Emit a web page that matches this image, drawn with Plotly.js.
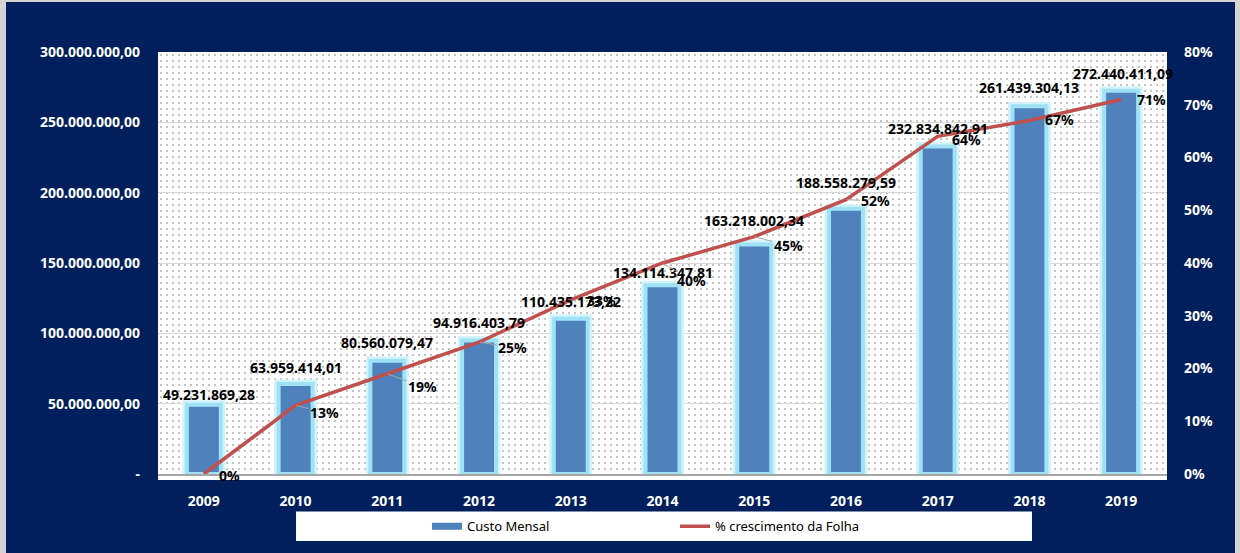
<!DOCTYPE html>
<html>
<head>
<meta charset="utf-8">
<script src="https://cdn.plot.ly/plotly-3.0.1.min.js"></script>
<style>
  html, body { margin:0; padding:0; width:1240px; height:553px; overflow:hidden; background:#d4d4d4; }
  #frame { position:absolute; left:6px; top:2px; width:1229px; height:551px; background:#001f5c; }
  #dots { position:absolute; left:158px; top:52px; width:1009px; height:428px;
          background-color:#ffffff;
          background-image: radial-gradient(circle, #c2c2c2 0.7px, rgba(255,255,255,0) 1px);
          background-size: 6px 6px; }
  #chart { position:absolute; left:0; top:0; width:1240px; height:553px; }
</style>
</head>
<body>
<div id="frame"></div>
<div id="dots"></div>
<div id="chart"></div>
<script>
// ---- data ----
const categories = ['2009','2010','2011','2012','2013','2014','2015','2016','2017','2018','2019'];
const custoMensal = [49231869.28, 63959414.01, 80560079.47, 94916403.79, 110435173.22, 134114347.81,
                     163218002.34, 188558279.59, 232834842.91, 261439304.13, 272440411.09];
const crescimento = [0.00, 0.13, 0.19, 0.25, 0.33, 0.40, 0.45, 0.52, 0.64, 0.67, 0.71];
const leftTickVals = [0, 50000000, 100000000, 150000000, 200000000, 250000000, 300000000];
const leftTickText = ['-', '50.000.000,00', '100.000.000,00', '150.000.000,00', '200.000.000,00', '250.000.000,00', '300.000.000,00'];

// ---- label placement (style only, pixels) ----
const barLabelShift = [10, 17, 18, 18, 17, 13, 24, 26, 18, 19, 17];
const barLabelXShift = [5, 0, 0, 0, 0, 0, 0, 0, 0, 0, 2];
const pctLabelOffset = [[26,1],[29,7],[35,13],[33,5],[31,1],[29,17],[34,9],[30,1],[29,3],[30,-1],[30,0]];
const pctLeader = [false, true, true, true, false, true, true, true, false, false, false];

const font = 'Noto Sans, Open Sans, sans-serif';

function fmtBR(n) {
  const parts = n.toFixed(2).split('.');
  const intPart = parts[0].replace(/\B(?=(\d{3})+(?!\d))/g, '.');
  return intPart + ',' + parts[1];
}

const traces = [
  {
    type: 'bar', name: 'glow', x: categories, y: custoMensal, showlegend: false,
    marker: { color: '#4f81bd', line: { color: '#d3f3fb', width: 9 } }, hoverinfo: 'skip'
  },
  {
    type: 'bar', name: 'Custo Mensal', x: categories, y: custoMensal, showlegend: false,
    marker: { color: '#4f81bd', line: { color: '#9fe2f5', width: 4 } }, hoverinfo: 'skip'
  },
  {
    type: 'scatter', mode: 'lines', name: 'Custo Mensal', x: categories, y: categories.map(() => null),
    line: { color: '#4f81bd', width: 7 }, showlegend: true, hoverinfo: 'skip'
  },
  {
    type: 'scatter', mode: 'lines', name: '% crescimento da Folha', x: categories, y: crescimento,
    yaxis: 'y2', line: { color: '#c0504d', width: 3.5 }, hoverinfo: 'skip'
  }
];

const annotations = [];
categories.forEach((c, i) => {
  annotations.push({
    x: i, y: custoMensal[i], xref: 'x', yref: 'y', text: fmtBR(custoMensal[i]),
    showarrow: false, yshift: barLabelShift[i], xshift: barLabelXShift[i], xanchor: 'center', yanchor: 'middle',
    font: { family: font, size: 14, color: '#000000', weight: 'bold' }
  });
});
categories.forEach((c, i) => {
  const off = pctLabelOffset[i];
  const a = {
    x: i, y: crescimento[i], xref: 'x', yref: 'y2', text: Math.round(crescimento[i] * 100) + '%',
    font: { family: font, size: 14, color: '#000000', weight: 'bold' }
  };
  if (pctLeader[i]) {
    Object.assign(a, { showarrow: true, arrowhead: 0, arrowwidth: 1, arrowcolor: '#a6a6a6',
                       ax: off[0], ay: off[1], standoff: 1 });
  } else {
    Object.assign(a, { showarrow: false, xshift: off[0], yshift: -off[1] });
  }
  annotations.push(a);
});

const layout = {
  width: 1240, height: 553,
  margin: { l: 158, r: 73, t: 52, b: 73 },
  paper_bgcolor: 'rgba(0,0,0,0)', plot_bgcolor: 'rgba(0,0,0,0)',
  barmode: 'overlay',
  bargap: 0.63,
  showlegend: true,
  font: { family: font, color: '#ffffff' },
  xaxis: {
    type: 'category', categoryorder: 'array', categoryarray: categories, range: [-0.5, categories.length - 0.5],
    showgrid: false, zeroline: false,
    showline: true, linecolor: '#a6a6a6', linewidth: 1.5,
    ticks: '', ticklabelstandoff: 14,
    tickfont: { family: font, size: 14, color: '#ffffff', weight: 'bold' }
  },
  yaxis: {
    range: [0, 300000000], tickvals: leftTickVals, ticktext: leftTickText,
    showgrid: true, gridcolor: '#d9d9d9', gridwidth: 1, zeroline: false, showline: false,
    ticks: '', ticklabelstandoff: 17,
    tickfont: { family: font, size: 14, color: '#ffffff', weight: 'bold' }
  },
  yaxis2: {
    overlaying: 'y', side: 'right', range: [0, 0.8], dtick: 0.1, tickformat: '.0%',
    showgrid: false, zeroline: false, showline: false, ticks: '', ticklabelstandoff: 16,
    tickfont: { family: font, size: 14, color: '#ffffff', weight: 'bold' }
  },
  annotations: annotations,
  shapes: [
    { type: 'rect', xref: 'paper', yref: 'paper', x0: 0.1368, x1: 0.8662, y0: -0.1589, y1: -0.0888,
      fillcolor: '#ffffff', line: { width: 0 }, layer: 'below' }
  ],
  legend: {
    orientation: 'h', x: 0.2666, xanchor: 'left', y: -0.1238, yanchor: 'middle',
    bgcolor: 'rgba(0,0,0,0)', entrywidth: 203, entrywidthmode: 'pixels',
    font: { family: font, size: 13, color: '#000000' }, traceorder: 'normal'
  }
};

Plotly.newPlot('chart', traces, layout, { displayModeBar: false, staticPlot: true });
</script>
</body>
</html>
